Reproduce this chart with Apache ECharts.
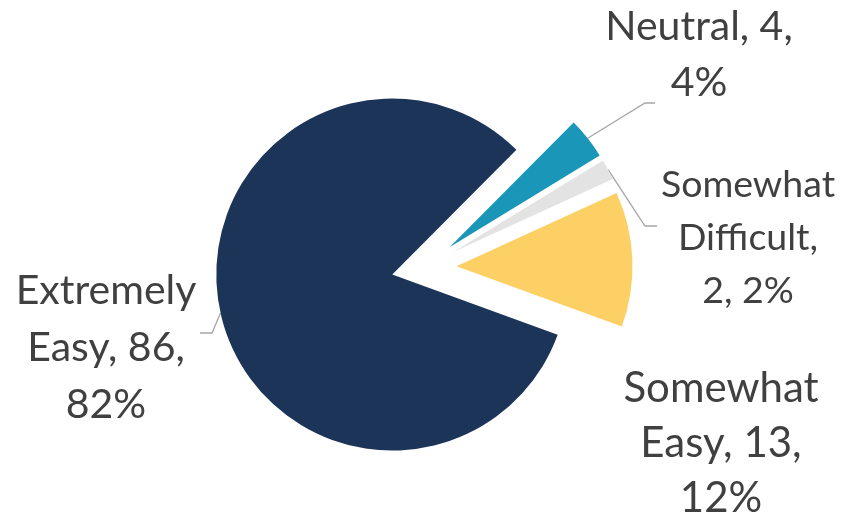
<!DOCTYPE html>
<html>
<head>
<meta charset="utf-8">
<script src="https://cdn.jsdelivr.net/npm/echarts@6/dist/echarts.min.js"></script>
<style>
  html, body { margin: 0; padding: 0; background: #ffffff; }
  #chart { width: 841px; height: 519px; }
</style>
</head>
<body>
<div id="chart"></div>
<script>
// Survey answers, listed clockwise from the large slice
const categories = ['Extremely Easy', 'Neutral', 'Somewhat Difficult', 'Somewhat Easy'];
const responses = [86, 4, 2, 13];
const sliceColors = ['#1D3459', '#1A96B9', '#E3E3E3', '#FCD064'];

// How many words go on each line of a label ("name, value, percent")
const labelLineGroups = [[1, 2, 1], [2, 1], [1, 1, 2], [1, 2, 1]];
// Where each label sits, its type size, and the bend / end of its leader line
const labelAnchors = [
  { x: 106, y: 348, size: 41, lh: 57, elbow: [212, 333], end: [200, 333] },
  { x: 699, y: 55, size: 41, lh: 56, elbow: [645, 103], end: [655, 103] },
  { x: 748, y: 238, size: 37.5, lh: 53, elbow: [645, 226], end: [657, 226] },
  { x: 721, y: 443, size: 42, lh: 55 }
];

// Pie geometry
const pieCenter = [424, 267.5];
const pieRadius = 176;
const explode = 32.5;
const startAngle = -20;          // echarts degrees, 90 = 12 o'clock
const labelFamily = 'Lato';
const labelColor = '#404040';

const total = responses.reduce(function (a, b) { return a + b; }, 0);

function buildLabel(idx) {
  const words = categories[idx].split(' ');
  words[words.length - 1] += ',';
  const pct = Math.round(responses[idx] / total * 100);
  const tokens = words.concat([responses[idx] + ',', pct + '%']);
  const lines = [];
  let k = 0;
  labelLineGroups[idx].forEach(function (n) {
    lines.push(tokens.slice(k, k + n).join(' '));
    k += n;
  });
  return lines.join('\n');
}

// Point on the outer edge of an exploded slice, at its middle angle
function sliceEdgePoint(idx) {
  let acc = 0;
  for (let i = 0; i < idx; i++) acc += responses[i];
  const midFrac = (acc + responses[idx] / 2) / total;
  const a = (startAngle - midFrac * 360) * Math.PI / 180;   // clockwise
  const r = pieRadius + explode;
  return [pieCenter[0] + r * Math.cos(a), pieCenter[1] - r * Math.sin(a)];
}

const chart = echarts.init(document.getElementById('chart'), null, { renderer: 'canvas' });

const data = categories.map(function (name, i) {
  return { name: name, value: responses[i], selected: true, itemStyle: { color: sliceColors[i] } };
});

const graphics = [];
categories.forEach(function (name, i) {
  const a = labelAnchors[i];
  if (a.elbow) {
    graphics.push({
      type: 'polyline',
      silent: true,
      shape: { points: [sliceEdgePoint(i), a.elbow, a.end] },
      style: { stroke: '#A6A6A6', lineWidth: 1.3, fill: null }
    });
  }
  graphics.push({
    type: 'text',
    silent: true,
    x: a.x,
    y: a.y,
    style: {
      text: buildLabel(i),
      fill: labelColor,
      fontFamily: labelFamily,
      fontSize: a.size,
      lineHeight: a.lh,
      align: 'center',
      verticalAlign: 'middle'
    }
  });
});

chart.setOption({
  animation: false,
  backgroundColor: '#ffffff',
  series: [{
    type: 'pie',
    silent: true,
    center: pieCenter,
    radius: pieRadius,
    startAngle: startAngle,
    clockwise: true,
    selectedMode: 'multiple',
    selectedOffset: explode,
    data: data,
    itemStyle: { borderWidth: 0 },
    label: { show: false },
    labelLine: { show: false }
  }],
  graphic: graphics
});
</script>
</body>
</html>
